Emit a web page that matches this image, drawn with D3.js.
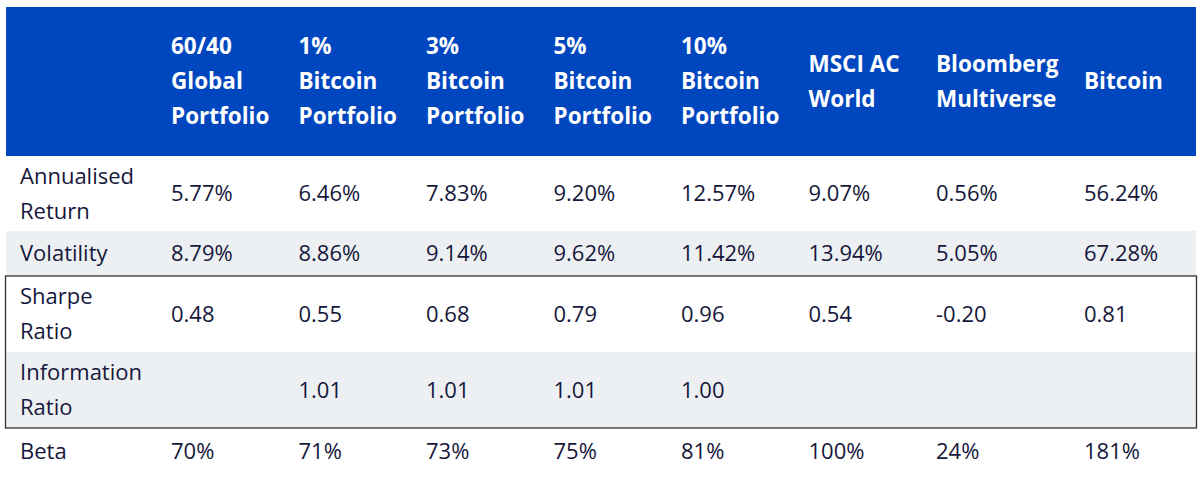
<!DOCTYPE html>
<html lang="en">
    <head>
        <meta charset="utf-8">
        <title>Bitcoin Portfolio Table</title>
        <script type="text/javascript" src="https://d3js.org/d3.v7.min.js"></script>
        <style type="text/css">
          body { margin: 0; background: #fff; }
          text { font-family: "Open Sans", "Noto Sans", sans-serif; }
        </style>
    </head>
    <body>
        <svg width="1200" height="478"></svg>
        <script type="text/javascript">

            // table contents
            const headers = [
              ["60/40", "Global", "Portfolio"],
              ["1%", "Bitcoin", "Portfolio"],
              ["3%", "Bitcoin", "Portfolio"],
              ["5%", "Bitcoin", "Portfolio"],
              ["10%", "Bitcoin", "Portfolio"],
              ["MSCI AC", "World"],
              ["Bloomberg", "Multiverse"],
              ["Bitcoin"]
            ];
            const metrics = [
              ["Annualised", "Return"],
              ["Volatility"],
              ["Sharpe", "Ratio"],
              ["Information", "Ratio"],
              ["Beta"]
            ];
            const annualisedReturn = ["5.77%", "6.46%", "7.83%", "9.20%", "12.57%", "9.07%", "0.56%", "56.24%"];
            const volatility = ["8.79%", "8.86%", "9.14%", "9.62%", "11.42%", "13.94%", "5.05%", "67.28%"];
            const sharpeRatio = ["0.48", "0.55", "0.68", "0.79", "0.96", "0.54", "-0.20", "0.81"];
            const informationRatio = ["", "1.01", "1.01", "1.01", "1.00", "", "", ""];
            const beta = ["70%", "71%", "73%", "75%", "81%", "100%", "24%", "181%"];
            const rows = [annualisedReturn, volatility, sharpeRatio, informationRatio, beta];

            // layout
            const svg = d3.select("svg");
            const x0 = 6, x1 = 1196, y0 = 7;
            const colWidths = [152, 127.5, 127.5, 127.5, 127.5, 127.5, 127.5, 148, 126];
            const rowHeights = [149, 75, 45, 76, 76, 47];
            // cell edges: first entry is the table's own edge
            const colX = Array.from(d3.cumsum([x0].concat(colWidths)));
            const rowY = Array.from(d3.cumsum([y0].concat(rowHeights)));
            const pad = 13;
            const lineH = 35;
            const blue = "#0046be", grey = "#edf0f3", ink = "#16173b";

            // header band
            svg.append("rect")
               .attr("x", x0).attr("y", rowY[0])
               .attr("width", x1 - x0).attr("height", rowHeights[0])
               .style("fill", blue);

            // body row backgrounds (striped)
            svg.selectAll("rect.row")
               .data(rows)
               .enter()
               .append("rect")
               .attr("class", "row")
               .attr("x", x0)
               .attr("y", (d, i) => rowY[i + 1])
               .attr("width", x1 - x0)
               .attr("height", (d, i) => rowHeights[i + 1])
               .style("fill", (d, i) => i % 2 === 1 ? grey : "#fff");

            // multi-line text helper, vertically centred in a cell
            function cellText(g, lines, x, yTop, h, opts) {
              const n = lines.length;
              const mid = yTop + h / 2;
              const t = g.append("text")
                         .attr("x", x)
                         .style("fill", opts.fill)
                         .style("font-size", opts.size + "px")
                         .style("font-weight", opts.weight);
              lines.forEach((line, k) => {
                t.append("tspan")
                 .attr("x", x)
                 .attr("y", mid + (k - (n - 1) / 2) * lineH)
                 .attr("dy", "0.35em")
                 .text(line);
              });
            }

            const g = svg.append("g");

            // header labels
            headers.forEach((lines, j) => {
              cellText(g, lines, colX[j + 1] + pad, rowY[0], rowHeights[0],
                       {fill: "#fff", size: 22.5, weight: 700});
            });

            // metric labels and values
            metrics.forEach((lines, i) => {
              cellText(g, lines, colX[0] + 14, rowY[i + 1], rowHeights[i + 1],
                       {fill: ink, size: 22, weight: 400});
              rows[i].forEach((v, j) => {
                cellText(g, [v], colX[j + 1] + pad, rowY[i + 1], rowHeights[i + 1],
                         {fill: ink, size: 22, weight: 400});
              });
            });

            // outline round the Sharpe and Information ratio rows
            svg.append("rect")
               .attr("x", x0 - 0.5)
               .attr("y", rowY[3])
               .attr("width", x1 - x0 + 1)
               .attr("height", rowY[5] - rowY[3])
               .style("fill", "none")
               .style("stroke", "#333")
               .style("stroke-width", 1.3);

        </script>
    </body>
</html>
